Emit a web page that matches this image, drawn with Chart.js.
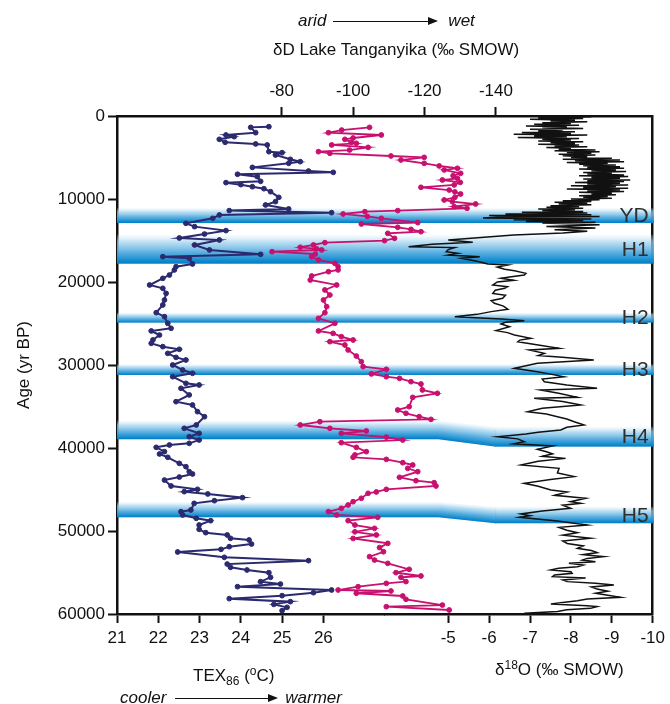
<!DOCTYPE html>
<html>
<head>
<meta charset="utf-8">
<script src="https://cdn.jsdelivr.net/npm/chart.js@4.4.0/dist/chart.umd.min.js"></script>
<style>
  body { margin: 0; background: #fff; }
  #wrap { position: relative; width: 670px; height: 704px; font-family: 'Liberation Sans', Arial, sans-serif; color: #111; }
  #wrap canvas { position: absolute; left: 0; top: 0; }
  .lbl { position: absolute; font-size: 17px; line-height: 1; white-space: nowrap; }
  .lbl i { font-style: italic; }
  .lbl sub { font-size: 12px; vertical-align: -4px; line-height: 0; }
  .lbl sup { font-size: 12px; vertical-align: 6px; line-height: 0; }
  .arrow { display: inline-block; position: relative; height: 1.5px; background: #111; vertical-align: middle; }
  .arrow::after { content: ""; position: absolute; right: -2px; top: -4px; border-left: 10px solid #111; border-top: 4.75px solid transparent; border-bottom: 4.75px solid transparent; }
</style>
</head>
<body>
<div id="wrap">
  <canvas id="chart" width="670" height="704"></canvas>
  <div class="lbl" style="left:298px; top:12px;"><i>arid</i><span class="arrow" style="width:103px; margin:0 12px 0 7px;"></span><i>wet</i></div>
  <div class="lbl" style="left:273px; top:41px;">δD Lake Tanganyika (‰ SMOW)</div>
  <div class="lbl" style="left:193px; top:667px;">TEX<sub>86</sub> (<sup>o</sup>C)</div>
  <div class="lbl" style="left:120px; top:689px;"><i>cooler</i><span class="arrow" style="width:101px; margin:0 9px 0 9px;"></span><i>warmer</i></div>
  <div class="lbl" style="left:495px; top:661px;">δ<sup>18</sup>O (‰ SMOW)</div>
</div>
<script>
// tick labels
const ageTicks = [0, 10000, 20000, 30000, 40000, 50000, 60000];
const texTicks = [21, 22, 23, 24, 25, 26];
const d18oTicks = [-5, -6, -7, -8, -9, -10];
const ddTicks = [-80, -100, -120, -140];

// TEX86 temperature (°C) vs age (yr BP)
const texAge = [1290, 1370, 2010, 2290, 2490, 2810, 3170, 3370, 3490, 4300, 4420, 4700, 5220, 5500, 5700, 6190, 6630, 6790, 7020, 7310,
  7870, 8030, 8270, 8520, 8760, 9120, 9800, 10320, 10720, 11200, 11400, 11650, 11930, 12330, 12930, 13330, 13810, 14220, 14700, 14940,
  15540, 16140, 16670, 16950, 17150, 17830, 18150, 18550, 19160, 19560, 20360, 20760, 21370, 22170, 22770, 23700, 24180, 24980, 25580, 25900,
  26390, 26990, 27390, 27790, 28110, 28600, 29080, 29400, 30000, 30600, 31000, 31410, 32210, 32410, 32810, 33610, 34420, 34820, 35620, 36230,
  37230, 37630, 38230, 38640, 39040, 39440, 39640, 39920, 40440, 40720, 41120, 41850, 42250, 42850, 43130, 43500, 43860, 44580, 44980, 45260,
  45540, 45980, 46350, 46670, 47470, 47670, 48070, 48470, 48760, 49280, 49800, 50200, 50480, 50880, 51080, 51570, 51890, 52210, 52530, 53170,
  53570, 53980, 54380, 54700, 55020, 55580, 56100, 56390, 56710, 57110, 57430, 57790, 58150, 58510, 58840, 59200, 59600];
const texVal = [24.68, 24.24, 24.36, 23.64, 23.84, 23.48, 23.62, 24.36, 24.64, 24.68, 25.0, 24.84, 25.2, 25.44, 25.16, 24.28, 25.64, 26.24, 23.92, 24.40,
  24.48, 23.64, 24.0, 24.28, 24.56, 24.72, 24.92, 24.84, 24.6, 25.16, 23.72, 26.2, 23.48, 23.32, 22.67, 22.88, 23.64, 23.12, 22.51, 23.48,
  22.88, 23.24, 24.48, 22.11, 22.75, 22.83, 22.43, 22.39, 22.27, 22.11, 21.79, 22.11, 22.19, 22.15, 22.11, 21.95, 22.15, 22.23, 22.31, 21.83,
  22.03, 21.87, 21.83, 22.11, 22.51, 22.23, 22.43, 22.67, 22.35, 22.59, 22.83, 22.35, 22.67, 22.99, 22.55, 22.75, 22.43, 22.83, 22.95, 23.12,
  22.92, 22.63, 22.99, 22.75, 22.99, 22.75, 22.27, 21.95, 22.15, 22.03, 22.23, 22.51, 22.67, 22.75, 22.83, 22.51, 22.15, 22.31, 22.95, 22.63,
  23.2, 24.04, 23.36, 22.87, 22.79, 22.55, 22.59, 22.92, 23.27, 22.99, 22.99, 23.15, 23.67, 23.75, 24.2, 24.26, 23.72, 23.52, 22.47, 23.6,
  25.64, 23.67, 23.75, 24.15, 24.68, 24.72, 24.48, 24.96, 23.92, 26.2, 25.76, 25.0, 23.72, 25.2, 24.8, 25.12, 25.0];

// deltaD Lake Tanganyika (permil SMOW) vs age
const ddAge = [1370, 1690, 2010, 2290, 2650, 2810, 3170, 3290, 3490, 3780, 4100, 4300, 4500, 4820, 4980, 5300, 5700, 6020, 6300, 6500,
  6910, 7200, 7510, 7710, 8000, 8310, 8590, 8920, 9150, 9400, 9800, 10120, 10320, 10600, 10920, 11120, 11400, 11530, 11810, 12100,
  12330, 12850, 13010, 13410, 13660, 13940, 14140, 14740, 15020, 15260, 15540, 15820, 16000, 16140, 16350, 16630, 16950, 17350, 17750, 18150,
  18550, 18760, 19280, 19760, 20360, 20960, 21570, 22170, 22970, 23700, 24380, 24980, 25900, 26190, 26590, 26990, 27190, 27590, 28190, 28920,
  29600, 30200, 30520, 31080, 31410, 31610, 32010, 32290, 33010, 33410, 33900, 35020, 35420, 35820, 36230, 36550, 36830, 37230, 37630, 37950,
  38230, 38700, 39040, 39360, 39920, 40440, 40840, 41120, 41370, 41770, 42050, 42450, 42850, 43530, 43940, 44180, 44580, 44980, 45300, 45460,
  46060, 46470, 46870, 47270, 47670, 48070, 48350, 48760, 49280, 49680, 50100, 50480, 50900, 51490, 52000, 52500, 53090, 53500, 53900, 54620,
  55020, 55420, 55580, 56100, 56310, 56710, 57110, 57230, 57500, 57830, 58230, 58920, 59120, 59520];
const ddVal = [-104.6, -96.8, -93.1, -107.9, -100.0, -97.7, -99.5, -100.9, -94.0, -104.2, -99.0, -90.3, -93.5, -110.6, -119.9, -113.4, -119.9, -124.1, -129.2, -125.5,
  -130.1, -128.0, -129.2, -125.0, -130.0, -128.3, -119.0, -126.9, -128.5, -130.1, -128.5, -125.5, -127.8, -134.3, -128.3, -131.9, -112.5, -103.3, -97.2, -104.0,
  -107.9, -118.1, -102.3, -112.5, -116.2, -119.0, -109.7, -111.6, -108.8, -92.1, -88.9, -85.2, -89.8, -91.2, -77.3, -89.4, -88.4, -90.3, -94.9, -95.8,
  -95.8, -93.1, -88.4, -88.0, -95.4, -92.1, -93.5, -91.7, -92.6, -92.1, -90.3, -94.9, -90.3, -94.4, -96.7, -100.0, -93.5, -97.7, -98.6, -100.9,
  -102.3, -102.8, -109.3, -105.1, -109.3, -113.0, -116.2, -119.0, -119.4, -123.6, -116.7, -115.7, -112.5, -114.8, -118.5, -121.8, -90.7, -85.2, -93.5, -103.7,
  -96.7, -109.3, -113.9, -96.7, -100.9, -103.7, -100.5, -100.0, -109.3, -113.9, -116.7, -115.3, -118.1, -113.0, -117.6, -122.7, -123.2, -109.3, -106.5, -104.2,
  -102.3, -100.0, -98.6, -96.7, -93.1, -95.4, -106.9, -98.6, -100.5, -106.0, -100.5, -106.5, -100.0, -109.7, -107.4, -108.5, -104.6, -106.0, -109.7, -115.7,
  -112.0, -119.0, -113.4, -114.8, -109.3, -101.4, -95.8, -110.6, -100.9, -113.9, -114.8, -125.0, -109.3, -126.9];

// speleothem delta18O (permil) vs age
const d18oAge = [0, 100, 200, 300, 400, 500, 600, 700, 800, 900, 1000, 1100, 1200, 1300, 1400, 1500, 1600, 1700, 1800, 1900,
  2000, 2100, 2200, 2300, 2400, 2500, 2600, 2700, 2800, 2900, 3000, 3100, 3200, 3300, 3400, 3500, 3600, 3700, 3800, 3900,
  4000, 4100, 4200, 4300, 4400, 4500, 4600, 4700, 4800, 4900, 5000, 5100, 5200, 5300, 5400, 5500, 5600, 5700, 5800, 5900,
  6000, 6100, 6200, 6300, 6400, 6500, 6600, 6700, 6800, 6900, 7000, 7100, 7200, 7300, 7400, 7500, 7600, 7700, 7800, 7900,
  8000, 8100, 8200, 8300, 8400, 8500, 8600, 8700, 8800, 8900, 9000, 9100, 9200, 9300, 9400, 9500, 9600, 9700, 9800, 9900,
  10000, 10100, 10200, 10300, 10400, 10500, 10600, 10700, 10800, 10900, 11000, 11100, 11200, 11300, 11400, 11500, 11600, 11700, 11800, 11900,
  12000, 12100, 12200, 12300, 12400, 12500, 12600, 12700, 12800, 12900, 13100, 13300, 13500, 13700, 13900, 14100, 14350, 14650, 14950, 15200,
  15450, 15740, 15850, 16100, 16350, 16550, 16750, 16950, 17150, 17500, 17830, 17950, 18200, 18470, 18650, 18960, 19160, 19400, 19560, 19800,
  20000, 20360, 20560, 20760, 21000, 21370, 21600, 21970, 22250, 22570, 22900, 23290, 23570, 23900, 24180, 24450, 24660, 24850, 25060, 25400,
  25860, 26100, 26390, 26790, 27000, 27200, 27600, 27990, 28190, 28600, 28850, 29080, 29400, 29800, 30100, 30400, 30800, 31100, 31410, 31700,
  32010, 32400, 32810, 33010, 33400, 33900, 34020, 34400, 34820, 35200, 35620, 35900, 36230, 36500, 36830, 37230, 37500, 37830, 38100, 38310,
  38640, 38900, 39240, 39500, 39760, 40160, 40450, 40700, 41000, 41250, 41600, 42050, 42450, 43000, 43450, 43800, 44260, 44600, 45060, 45300,
  45700, 46060, 46470, 46670, 46900, 47270, 47600, 47950, 48150, 48350, 48800, 49280, 49560, 49900, 50200, 50500, 50880, 51200, 51500, 51800,
  52090, 52350, 52600, 52850, 53090, 53300, 53500, 53700, 53900, 54100, 54300, 54500, 54700, 54900, 55100, 55300, 55500, 55650, 55900, 56100,
  56300, 56500, 56750, 57000, 57250, 57500, 57750, 57990, 58200, 58400, 58600, 58800, 59000, 59100, 59320, 59500, 59700, 59920];
const d18oVal = [-7.6, -8.5, -7.2, -8.3, -7.0, -8.1, -7.5, -8.4, -7.3, -8.0, -7.1, -8.2, -6.9, -7.9, -7.3, -8.3, -7.0, -7.8, -7.2, -8.1,
  -6.8, -8.0, -6.6, -8.4, -7.1, -7.9, -6.7, -8.2, -7.3, -8.0, -7.2, -8.3, -7.5, -8.1, -7.2, -8.2, -7.6, -8.4, -7.4, -8.0,
  -7.7, -8.6, -7.6, -8.7, -7.9, -8.5, -7.7, -8.6, -7.8, -8.4, -8.0, -9.0, -7.8, -9.2, -8.1, -9.3, -7.9, -8.9, -8.2, -9.1,
  -8.3, -9.2, -8.4, -9.3, -8.2, -9.1, -8.5, -9.35, -8.3, -9.0, -8.4, -9.3, -8.2, -9.4, -8.5, -9.2, -8.3, -9.45, -8.4, -9.3,
  -8.1, -9.2, -8.4, -9.4, -8.0, -9.1, -8.3, -9.4, -7.9, -9.2, -8.4, -9.3, -8.2, -9.0, -8.5, -9.1, -8.2, -8.9, -8.3, -9.0,
  -8.0, -8.7, -7.8, -8.5, -7.6, -8.4, -7.7, -8.5, -7.5, -8.2, -7.4, -8.3, -7.2, -8.1, -7.3, -8.3, -6.8, -8.4, -6.4, -8.5,
  -6.0, -8.7, -6.2, -5.85, -8.5, -6.6, -8.3, -6.9, -8.6, -7.3, -8.7, -7.4, -8.6, -7.6, -8.4, -7.8, -6.6, -5.8, -5.0, -5.6,
  -4.6, -4.03, -5.16, -5.0, -4.95, -5.24, -5.0, -5.77, -5.32, -5.7, -5.97, -6.46, -6.2, -6.38, -6.62, -6.9, -6.86, -6.5, -6.29, -6.6,
  -6.2, -6.09, -6.45, -6.38, -6.15, -6.09, -6.4, -6.33, -6.05, -6.13, -6.35, -6.46, -6.05, -5.7, -5.16, -6.3, -6.86, -6.4, -6.29, -6.5,
  -6.17, -6.45, -6.62, -7.02, -6.75, -6.7, -7.2, -7.71, -6.98, -7.35, -7.2, -7.79, -8.56, -7.18, -6.9, -6.62, -7.18, -7.5, -7.83, -7.3,
  -7.35, -7.9, -8.64, -7.26, -7.7, -8.16, -7.1, -7.8, -8.24, -7.3, -6.94, -7.4, -7.67, -7.9, -8.08, -8.32, -7.9, -7.75, -7.2, -6.9,
  -6.21, -6.7, -6.86, -6.6, -7.55, -7.18, -7.4, -7.55, -7.3, -7.87, -7.2, -6.78, -7.71, -7.67, -8.08, -7.5, -6.86, -7.2, -7.51, -7.91,
  -7.6, -8.36, -7.99, -8.24, -7.8, -7.99, -7.3, -6.78, -7.0, -6.74, -7.67, -8.4, -7.71, -7.9, -8.16, -7.8, -8.48, -7.8, -7.91, -8.3,
  -8.16, -8.5, -8.64, -8.3, -8.8, -8.4, -8.28, -8.6, -7.95, -8.3, -8.16, -7.7, -7.51, -8.0, -8.03, -7.6, -7.55, -8.36, -7.8, -7.91,
  -8.6, -9.05, -8.5, -8.64, -8.9, -8.6, -8.9, -9.21, -8.4, -8.16, -7.8, -7.51, -8.4, -8.64, -8.48, -7.9, -7.67, -6.86];

// cold events: age range on the left records and on the speleothem record
const bandNames = ['YD', 'H1', 'H2', 'H3', 'H4', 'H5'];
const bandStartL = [11100, 14300, 23700, 29900, 36700, 46500];
const bandEndL = [12900, 17800, 24900, 31200, 38950, 48350];
const bandStartR = [11100, 14300, 23700, 29900, 37430, 47070];
const bandEndR = [12900, 17800, 24900, 31200, 39840, 49070];

const navy = '#2b2a6e';
const pink = '#c8106f';
const ink = '#111111';
const tickFont = { family: "'Liberation Sans', Arial, sans-serif", size: 17 };
// where the H4/H5 bands bend, in speleothem axis units
const bendFrom = -4.75, bendTo = -6.15;

function pts(ages, vals) {
  return ages.map((a, i) => ({ x: vals[i], y: a }));
}

function fillBand(ctx, x0, x1, t, b) {
  const g = ctx.createLinearGradient(0, t, 0, b);
  g.addColorStop(0, 'rgba(210,235,248,0.15)');
  g.addColorStop(0.25, 'rgba(160,210,238,0.7)');
  g.addColorStop(0.6, 'rgba(80,170,222,0.92)');
  g.addColorStop(0.9, 'rgb(15,138,206)');
  g.addColorStop(1, 'rgb(0,126,198)');
  ctx.fillStyle = g;
  ctx.fillRect(x0, t, x1 - x0, b - t);
}

const bandPlugin = {
  id: 'bands',
  beforeDatasetsDraw(chart) {
    const { ctx, chartArea: area, scales } = chart;
    const y = scales.y;
    const xA = scales.xO.getPixelForValue(bendFrom);
    const xB = scales.xO.getPixelForValue(bendTo);
    ctx.save();
    bandNames.forEach((name, i) => {
      const t0 = y.getPixelForValue(bandStartL[i]), b0 = y.getPixelForValue(bandEndL[i]);
      const t1 = y.getPixelForValue(bandStartR[i]), b1 = y.getPixelForValue(bandEndR[i]);
      if (t0 === t1 && b0 === b1) {
        fillBand(ctx, area.left, area.right + 1, t0, b0);
        return;
      }
      fillBand(ctx, area.left, xA, t0, b0);
      for (let x = xA; x < xB; x += 1) {
        const f = (x - xA) / (xB - xA);
        fillBand(ctx, x, x + 1.2, t0 + (t1 - t0) * f, b0 + (b1 - b0) * f);
      }
      fillBand(ctx, xB, area.right + 1, t1, b1);
    });
    ctx.restore();
  },
  afterDatasetsDraw(chart) {
    const { ctx, chartArea: area, scales } = chart;
    const y = scales.y;
    ctx.save();
    ctx.font = "21px 'Liberation Sans', Arial, sans-serif";
    ctx.fillStyle = '#2e2e2e';
    ctx.textAlign = 'right';
    ctx.textBaseline = 'middle';
    bandNames.forEach((name, i) => {
      const t1 = y.getPixelForValue(bandStartR[i]), b1 = y.getPixelForValue(bandEndR[i]);
      ctx.fillText(name, area.right - 4, (t1 + b1) / 2 + 1);
    });
    ctx.restore();
  }
};

function xAxis(extra) {
  return Object.assign({
    type: 'linear',
    grid: { display: true, drawOnChartArea: false, drawTicks: true, tickLength: 9, tickWidth: 2, color: ink },
    border: { display: true, color: ink, width: 2.5 },
    ticks: { font: tickFont, color: ink, padding: 5, maxRotation: 0, autoSkip: false }
  }, extra);
}

new Chart(document.getElementById('chart'), {
  type: 'scatter',
  data: {
    datasets: [
      { label: 'TEX86', data: pts(texAge, texVal), xAxisID: 'xT', yAxisID: 'y', showLine: true,
        borderColor: navy, backgroundColor: navy, borderWidth: 2, pointRadius: 2.4, pointBorderWidth: 1 },
      { label: 'dD', data: pts(ddAge, ddVal), xAxisID: 'xD', yAxisID: 'y', showLine: true,
        borderColor: pink, backgroundColor: pink, borderWidth: 1.8, pointRadius: 2.4, pointBorderWidth: 1 },
      { label: 'd18O', data: pts(d18oAge, d18oVal), xAxisID: 'xO', yAxisID: 'y', showLine: true,
        borderColor: ink, borderWidth: 1.5, pointRadius: 0 }
    ]
  },
  options: {
    responsive: false,
    animation: false,
    layout: { padding: { left: 0, right: 13, top: 0, bottom: 0 } },
    plugins: { legend: { display: false }, tooltip: { enabled: false } },
    scales: {
      xT: xAxis({
        position: 'bottom', stack: 'b', stackWeight: 1, min: 21, max: 27.49,
        afterBuildTicks: s => { s.ticks = texTicks.map(v => ({ value: v })); },
        afterFit: s => { s.height = 90; }
      }),
      xO: xAxis({
        position: 'bottom', stack: 'b', stackWeight: 1, min: -10, max: -3.45, reverse: true,
        afterBuildTicks: s => { s.ticks = d18oTicks.map(v => ({ value: v })); },
        afterFit: s => { s.height = 90; }
      }),
      xD: xAxis({
        position: 'top', min: -183.89, max: -33.89, reverse: true,
        afterBuildTicks: s => { s.ticks = ddTicks.map(v => ({ value: v })); },
        afterFit: s => { s.height = 116; }
      }),
      y: {
        type: 'linear', position: 'left', min: 0, max: 60000, reverse: true,
        grid: { display: true, drawOnChartArea: false, drawTicks: true, tickLength: 9, tickWidth: 2, color: ink },
        border: { display: true, color: ink, width: 2.5 },
        ticks: { font: tickFont, color: ink, padding: 3, callback: v => String(v) },
        afterBuildTicks: s => { s.ticks = ageTicks.map(v => ({ value: v })); },
        afterFit: s => { s.width = 117; },
        title: { display: true, text: 'Age (yr BP)', font: tickFont, color: ink, padding: { top: 14, bottom: 0 } }
      },
      yR: {
        type: 'linear', position: 'right', min: 0, max: 60000,
        grid: { display: false },
        border: { display: true, color: ink, width: 2.5 },
        ticks: { display: false },
        afterFit: s => { s.width = 0; }
      }
    }
  },
  plugins: [bandPlugin]
});
</script>
</body>
</html>
